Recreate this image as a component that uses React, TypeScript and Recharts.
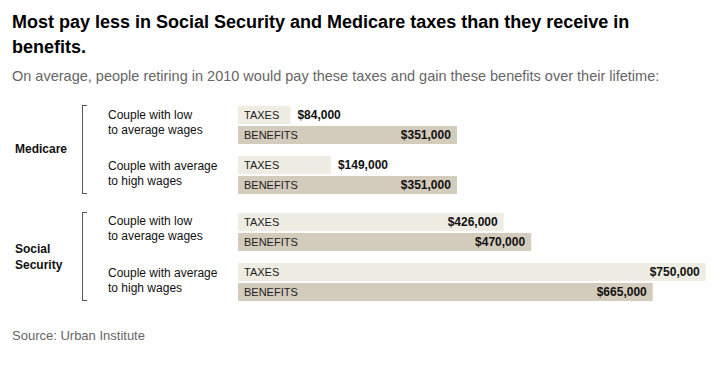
import React from 'react';
import { BarChart, Bar, XAxis, YAxis, LabelList } from 'recharts';

const medicareGroups = ['Couple with low|to average wages', 'Couple with average|to high wages'];
const medicareTaxes = [84000, 149000];
const medicareBenefits = [351000, 351000];

const socialGroups = ['Couple with low|to average wages', 'Couple with average|to high wages'];
const socialTaxes = [426000, 750000];
const socialBenefits = [470000, 665000];

const programs = ['Medicare', 'Social|Security'];

const FONT = '"Liberation Sans", Arial, Helvetica, sans-serif';
const TAX_COLOR = '#efece4';
const BEN_COLOR = '#d3cbbc';

const fmt = (v: number) => '$' + v.toLocaleString('en-US');

const buildRows = (groups: string[], taxes: number[], benefits: number[]) =>
  groups.map((g, i) => ({ group: g, taxes: taxes[i], benefits: benefits[i] }));

const nameLabel = (text: string) => (props: any) => {
  const { x, y, height } = props;
  return (
    <text x={x + 6} y={y + height / 2} dy={4} fontSize={11} fontFamily={FONT} fill="#222">
      {text}
    </text>
  );
};

const valueLabel = (props: any) => {
  const { x, y, width, height, value } = props;
  const outside = width < 120;
  return (
    <text
      x={outside ? x + width + 7 : x + width - 6}
      y={y + height / 2}
      dy={4}
      textAnchor={outside ? 'start' : 'end'}
      fontSize={12}
      fontWeight="bold"
      fontFamily={FONT}
      fill="#111"
    >
      {fmt(value)}
    </text>
  );
};

const PairChart = ({ data, top }: { data: any[]; top: number }) => (
  <div style={{ position: 'absolute', left: 238, top }}>
    <BarChart
      width={474}
      height={100}
      layout="vertical"
      data={data}
      margin={{ top: 0, right: 0, bottom: 0, left: 0 }}
      barGap={2}
      barCategoryGap={6}
    >
      <XAxis type="number" domain={[0, 760000]} hide />
      <YAxis type="category" dataKey="group" hide />
      <Bar dataKey="taxes" fill={TAX_COLOR} barSize={18} isAnimationActive={false}>
        <LabelList dataKey="taxes" content={nameLabel('TAXES')} />
        <LabelList dataKey="taxes" content={valueLabel} />
      </Bar>
      <Bar dataKey="benefits" fill={BEN_COLOR} barSize={18} isAnimationActive={false}>
        <LabelList dataKey="benefits" content={nameLabel('BENEFITS')} />
        <LabelList dataKey="benefits" content={valueLabel} />
      </Bar>
    </BarChart>
  </div>
);

const Bracket = ({ top, height }: { top: number; height: number }) => (
  <div
    style={{
      position: 'absolute',
      left: 82,
      top,
      width: 5,
      height,
      borderLeft: '1.5px solid #5e5068',
      borderTop: '1.5px solid #5e5068',
      borderBottom: '1.5px solid #5e5068',
      boxSizing: 'border-box',
    }}
  />
);

const GroupText = ({ text, top }: { text: string; top: number }) => (
  <div style={{ position: 'absolute', left: 108, top, fontSize: 12, lineHeight: '15px', color: '#111' }}>
    {text.split('|').map((l, i) => (
      <div key={i}>{l}</div>
    ))}
  </div>
);

const App = () => {
  const medicare = buildRows(medicareGroups, medicareTaxes, medicareBenefits);
  const social = buildRows(socialGroups, socialTaxes, socialBenefits);

  return (
    <div
      style={{
        position: 'absolute',
        left: 0,
        top: 0,
        width: 724,
        height: 366,
        background: '#fff',
        fontFamily: FONT,
        overflow: 'hidden',
      }}
    >
      <div
        style={{
          position: 'absolute',
          left: 12,
          top: 10,
          fontSize: 18,
          fontWeight: 'bold',
          lineHeight: '25px',
          color: '#000',
        }}
      >
        Most pay less in Social Security and Medicare taxes than they receive in
        <br />
        benefits.
      </div>
      <div style={{ position: 'absolute', left: 12, top: 68, fontSize: 14.5, color: '#666' }}>
        On average, people retiring in 2010 would pay these taxes and gain these benefits over their lifetime:
      </div>

      <div style={{ position: 'absolute', left: 15, top: 142, fontSize: 12, fontWeight: 'bold', color: '#111' }}>
        {programs[0]}
      </div>
      <div
        style={{
          position: 'absolute',
          left: 15,
          top: 241,
          fontSize: 12,
          lineHeight: '16px',
          fontWeight: 'bold',
          color: '#111',
        }}
      >
        {programs[1].split('|').map((l, i) => (
          <div key={i}>{l}</div>
        ))}
      </div>

      <Bracket top={105} height={89} />
      <Bracket top={212} height={89} />

      <GroupText text={medicareGroups[0]} top={108} />
      <GroupText text={medicareGroups[1]} top={159} />
      <GroupText text={socialGroups[0]} top={214} />
      <GroupText text={socialGroups[1]} top={266} />

      <PairChart data={medicare} top={100} />
      <PairChart data={social} top={207} />

      <div style={{ position: 'absolute', left: 12, top: 328, fontSize: 13, color: '#666' }}>
        Source: Urban Institute
      </div>
    </div>
  );
};

export default App;
